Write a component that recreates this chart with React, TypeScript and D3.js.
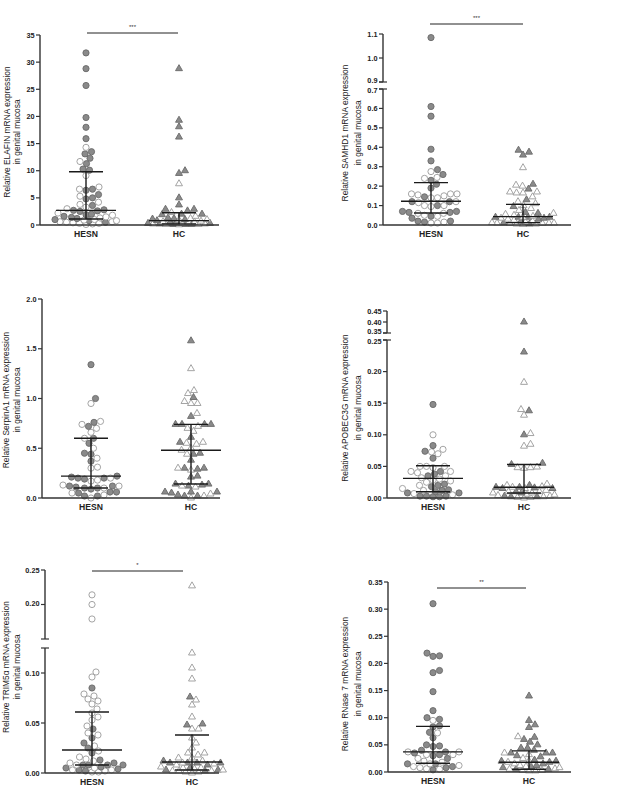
import React from "react";
import * as d3 from "d3";

const categories = ["HESN", "HC"];

// ELAFIN
const elafinHesnFilled = [31.7, 28.8, 25.7, 19.8, 18.0, 15.9, 13.5, 13.1, 12.3, 11.3, 10.3, 10.1, 6.6, 6.4, 5.6, 5.0, 4.8, 3.6, 2.8, 2.7, 2.6, 2.5, 2.0, 1.9, 1.6, 1.4, 1.2, 1.0, 0.8, 0.5];
const elafinHesnOpen = [14.3, 11.7, 9.1, 7.0, 6.6, 5.3, 4.2, 3.8, 3.3, 3.0, 2.2, 1.8, 1.5, 1.3, 1.0, 0.9, 0.8, 0.6, 0.6, 0.5, 0.4, 0.3, 0.3, 0.2, 0.1];
const elafinHcFilled = [28.8, 19.3, 18.1, 16.2, 10.0, 9.5, 5.0, 3.7, 2.9, 2.9, 2.6, 2.0, 2.0, 1.9, 1.3, 1.2, 1.1, 1.0, 0.8, 0.5, 0.4, 0.3, 0.3, 0.2, 0.1, 0.1, 0.1];
const elafinHcOpen = [7.6, 2.3, 1.6, 1.2, 1.0, 0.9, 0.7, 0.6, 0.5, 0.4, 0.3, 0.2, 0.2, 0.1, 0.1, 0.05];
const elafinMedian = [2.7, 0.8];
const elafinQ1 = [1.1, 0.2];
const elafinQ3 = [9.8, 2.25];

// SAMHD1
const samhd1HesnFilled = [1.085, 0.61, 0.56, 0.39, 0.33, 0.285, 0.26, 0.23, 0.21, 0.19, 0.145, 0.12, 0.12, 0.1, 0.07, 0.065, 0.07, 0.065, 0.045, 0.035, 0.02, 0.02, 0.015];
const samhd1HesnOpen = [0.275, 0.245, 0.24, 0.16, 0.16, 0.16, 0.155, 0.15, 0.14, 0.14, 0.12, 0.115, 0.1, 0.1, 0.095, 0.06, 0.06, 0.05, 0.045, 0.015, 0.01, 0.01];
const samhd1HcFilled = [0.385, 0.375, 0.36, 0.21, 0.185, 0.13, 0.095, 0.065, 0.06, 0.04, 0.04, 0.04, 0.04, 0.035, 0.03, 0.02, 0.01, 0.005];
const samhd1HcOpen = [0.295, 0.205, 0.2, 0.17, 0.17, 0.165, 0.165, 0.145, 0.12, 0.11, 0.1, 0.085, 0.075, 0.06, 0.055, 0.05, 0.045, 0.04, 0.035, 0.03, 0.025, 0.02, 0.015, 0.012, 0.01, 0.01, 0.01, 0.008, 0.008, 0.005, 0.005, 0.003];
const samhd1Median = [0.122, 0.043];
const samhd1Q1 = [0.062, 0.012];
const samhd1Q3 = [0.218, 0.106];

// SerpinA1
const serpinHesnFilled = [1.34, 1.0, 0.76, 0.72, 0.6, 0.55, 0.45, 0.44, 0.37, 0.22, 0.21, 0.2, 0.2, 0.19, 0.12, 0.12, 0.11, 0.1, 0.1, 0.09, 0.06, 0.06, 0.05, 0.02, 0.02];
const serpinHesnOpen = [0.95, 0.77, 0.74, 0.7, 0.66, 0.6, 0.5, 0.4, 0.31, 0.3, 0.2, 0.18, 0.17, 0.13, 0.12, 0.1, 0.05, 0.03, 0.0];
const serpinHcFilled = [1.58, 1.01, 0.82, 0.74, 0.74, 0.74, 0.74, 0.61, 0.56, 0.45, 0.44, 0.38, 0.3, 0.3, 0.29, 0.21, 0.22, 0.14, 0.14, 0.13, 0.12, 0.06, 0.06, 0.06, 0.05, 0.03, 0.02, 0.02];
const serpinHcOpen = [1.3, 1.08, 1.05, 0.97, 0.95, 0.95, 0.85, 0.72, 0.7, 0.67, 0.56, 0.55, 0.54, 0.5, 0.48, 0.44, 0.3, 0.28, 0.12, 0.11, 0.04, 0.02, 0.0];
const serpinMedian = [0.22, 0.48];
const serpinQ1 = [0.1, 0.14];
const serpinQ3 = [0.6, 0.74];

// APOBEC3G
const apobecHesnFilled = [0.148, 0.083, 0.074, 0.063, 0.042, 0.038, 0.035, 0.022, 0.02, 0.018, 0.013, 0.012, 0.01, 0.008, 0.008, 0.003, 0.003, 0.003, 0.002, 0.002];
const apobecHesnOpen = [0.1, 0.077, 0.073, 0.07, 0.05, 0.05, 0.05, 0.048, 0.042, 0.042, 0.04, 0.035, 0.032, 0.03, 0.028, 0.027, 0.025, 0.02, 0.015, 0.012, 0.007, 0.005];
const apobecHcFilled = [0.40, 0.231, 0.138, 0.1, 0.053, 0.055, 0.02, 0.017, 0.017, 0.016, 0.015, 0.015, 0.01, 0.008, 0.003, 0.002, 0.002];
const apobecHcOpen = [0.183, 0.14, 0.131, 0.102, 0.085, 0.082, 0.049, 0.048, 0.048, 0.047, 0.022, 0.02, 0.018, 0.017, 0.015, 0.012, 0.01, 0.01, 0.008, 0.008, 0.006, 0.005, 0.004, 0.003, 0.002, 0.001, 0.001, 0.0];
const apobecMedian = [0.031, 0.017];
const apobecQ1 = [0.01, 0.008];
const apobecQ3 = [0.051, 0.053];

// TRIM5α
const trimHesnFilled = [0.085, 0.044, 0.035, 0.03, 0.025, 0.02, 0.013, 0.01, 0.008, 0.008, 0.008, 0.008, 0.006, 0.005, 0.004, 0.003, 0.002];
const trimHesnOpen = [0.214, 0.2, 0.179, 0.101, 0.096, 0.079, 0.077, 0.074, 0.072, 0.069, 0.064, 0.06, 0.056, 0.053, 0.047, 0.04, 0.038, 0.027, 0.022, 0.016, 0.014, 0.012, 0.01, 0.008, 0.005, 0.003, 0.003, 0.002, 0.001, 0.001];
const trimHcFilled = [0.076, 0.049, 0.048, 0.012, 0.01, 0.01, 0.01, 0.01, 0.008, 0.005, 0.003, 0.003, 0.002];
const trimHcOpen = [0.227, 0.12, 0.105, 0.094, 0.073, 0.068, 0.056, 0.044, 0.044, 0.035, 0.03, 0.025, 0.02, 0.02, 0.018, 0.015, 0.015, 0.012, 0.01, 0.009, 0.008, 0.006, 0.005, 0.005, 0.004, 0.003, 0.002, 0.002, 0.002, 0.001, 0.001, 0.0];
const trimMedian = [0.023, 0.011];
const trimQ1 = [0.008, 0.003];
const trimQ3 = [0.061, 0.038];

// RNase 7
const rnaseHesnFilled = [0.31, 0.219, 0.214, 0.213, 0.187, 0.183, 0.148, 0.113, 0.1, 0.097, 0.085, 0.083, 0.073, 0.063, 0.05, 0.048, 0.047, 0.04, 0.037, 0.035, 0.032, 0.03, 0.025, 0.015, 0.015, 0.01, 0.008, 0.004];
const rnaseHesnOpen = [0.095, 0.072, 0.037, 0.037, 0.032, 0.032, 0.025, 0.02, 0.018, 0.015, 0.012, 0.01, 0.008, 0.006, 0.005];
const rnaseHcFilled = [0.14, 0.095, 0.087, 0.082, 0.064, 0.06, 0.055, 0.05, 0.044, 0.044, 0.04, 0.035, 0.035, 0.035, 0.03, 0.028, 0.022, 0.02, 0.02, 0.018, 0.015, 0.012, 0.01, 0.008, 0.005, 0.005];
const rnaseHcOpen = [0.065, 0.035, 0.032, 0.025, 0.02, 0.018, 0.015, 0.012, 0.01, 0.008, 0.006, 0.005, 0.003, 0.003, 0.002, 0.002];
const rnaseMedian = [0.037, 0.018];
const rnaseQ1 = [0.016, 0.005];
const rnaseQ3 = [0.084, 0.039];

type Seg = { domain: [number, number]; range: [number, number]; ticks: number[]; fmt: string; capTop?: boolean; capBottom?: boolean };
type Panel = {
  axisX: number; xEnd: number; centers: [number, number]; segs: Seg[];
  title: string[]; titleX: [number, number]; titleY: number;
  groups: { filled: number[]; open: number[] }[];
  median: number[]; q1: number[]; q3: number[];
  sig?: { x1: number; x2: number; y: number; text: string };
};

const t = (a: number, b: number, s: number) => d3.range(a, b + s / 2, s);

const panels: Panel[] = [
  {
    axisX: 40, xEnd: 219, centers: [86, 179],
    segs: [{ domain: [0, 35], range: [225, 35], ticks: t(0, 35, 5), fmt: "d" }],
    title: ["Relative ELAFIN mRNA expression", "in genital mucosa"], titleX: [7, 17], titleY: 132,
    groups: [{ filled: elafinHesnFilled, open: elafinHesnOpen }, { filled: elafinHcFilled, open: elafinHcOpen }],
    median: elafinMedian, q1: elafinQ1, q3: elafinQ3,
    sig: { x1: 87, x2: 178, y: 33, text: "***" },
  },
  {
    axisX: 383, xEnd: 571, centers: [431, 523],
    segs: [
      { domain: [0, 0.7], range: [225, 89], ticks: t(0, 0.7, 0.1), fmt: ".1f", capTop: true },
      { domain: [0.9, 1.1], range: [82, 34], ticks: t(0.9, 1.1, 0.1), fmt: ".1f", capBottom: true },
    ],
    title: ["Relative SAMHD1 mRNA expression", "in genital mucosa"], titleX: [345, 358], titleY: 133,
    groups: [{ filled: samhd1HesnFilled, open: samhd1HesnOpen }, { filled: samhd1HcFilled, open: samhd1HcOpen }],
    median: samhd1Median, q1: samhd1Q1, q3: samhd1Q3,
    sig: { x1: 430, x2: 523, y: 24, text: "***" },
  },
  {
    axisX: 42, xEnd: 220, centers: [91, 191],
    segs: [{ domain: [0, 2], range: [498, 299], ticks: t(0, 2, 0.5), fmt: ".1f" }],
    title: ["Relative SerpinA1 mRNA expression", "in genital mucosa"], titleX: [6, 17], titleY: 400,
    groups: [{ filled: serpinHesnFilled, open: serpinHesnOpen }, { filled: serpinHcFilled, open: serpinHcOpen }],
    median: serpinMedian, q1: serpinQ1, q3: serpinQ3,
  },
  {
    axisX: 387, xEnd: 571, centers: [433, 524],
    segs: [
      { domain: [0, 0.25], range: [498, 340], ticks: t(0, 0.25, 0.05), fmt: ".2f", capTop: true },
      { domain: [0.35, 0.45], range: [333, 311], ticks: t(0.35, 0.45, 0.05), fmt: ".2f", capBottom: true },
    ],
    title: ["Relative APOBEC3G mRNA expression", "in genital mucosa"], titleX: [345, 358], titleY: 408,
    groups: [{ filled: apobecHesnFilled, open: apobecHesnOpen }, { filled: apobecHcFilled, open: apobecHcOpen }],
    median: apobecMedian, q1: apobecQ1, q3: apobecQ3,
  },
  {
    axisX: 45, xEnd: 219, centers: [92, 192],
    segs: [
      { domain: [0, 0.125], range: [773, 648], ticks: t(0, 0.1, 0.05), fmt: ".2f", capTop: true },
      { domain: [0.15, 0.25], range: [639, 570], ticks: [0.2, 0.25], fmt: ".2f", capBottom: true },
    ],
    title: ["Relative TRIM5\u03b1 mRNA expression", "in genital mucosa"], titleX: [6, 17], titleY: 667,
    groups: [{ filled: trimHesnFilled, open: trimHesnOpen }, { filled: trimHcFilled, open: trimHcOpen }],
    median: trimMedian, q1: trimQ1, q3: trimQ3,
    sig: { x1: 92, x2: 183, y: 571, text: "*" },
  },
  {
    axisX: 388, xEnd: 571, centers: [433, 529],
    segs: [{ domain: [0, 0.35], range: [772, 582], ticks: t(0, 0.35, 0.05), fmt: ".2f" }],
    title: ["Relative RNase 7 mRNA expression", "in genital mucosa"], titleX: [345, 358], titleY: 684,
    groups: [{ filled: rnaseHesnFilled, open: rnaseHesnOpen }, { filled: rnaseHcFilled, open: rnaseHcOpen }],
    median: rnaseMedian, q1: rnaseQ1, q3: rnaseQ3,
    sig: { x1: 437, x2: 526, y: 588, text: "**" },
  },
];

const FONT = "'Liberation Sans', Arial, sans-serif";
const FILL = "#8a8a8a";
const FILL_STROKE = "#6a6a6a";
const OPEN_STROKE = "#9a9a9a";

function makeY(segs: Seg[]) {
  const scales = segs.map((s) => d3.scaleLinear().domain(s.domain).range(s.range));
  return (v: number) => {
    for (let i = segs.length - 1; i >= 0; i--) {
      if (v >= segs[i].domain[0] || i === 0) return scales[i](v);
    }
    return scales[0](v);
  };
}

function swarm(vals: { v: number; filled: boolean }[], y: (v: number) => number, cx: number, d: number, maxHalf: number) {
  const items = vals.map((p) => ({ ...p, y: y(p.v) })).sort((a, b) => b.y - a.y);
  const placed: { x: number; y: number; filled: boolean }[] = [];
  for (const it of items) {
    let x: number | null = null;
    for (const sc of [1, 0.85, 0.72, 0.6, 0.5, 0.4, 0.3]) {
      const dd = d * sc;
      for (let k = 0; k < 400; k++) {
        const off = k === 0 ? 0 : (k % 2 === 1 ? 1 : -1) * Math.ceil(k / 2) * 0.5;
        if (Math.abs(off) > maxHalf) break;
        const cxTry = cx + off;
        const hit = placed.some((p) => (p.x - cxTry) ** 2 + (p.y - it.y) ** 2 < dd * dd);
        if (!hit) { x = cxTry; break; }
      }
      if (x !== null) break;
    }
    placed.push({ x: x === null ? cx : x, y: it.y, filled: it.filled });
  }
  return placed;
}

const triPath = d3.symbol(d3.symbolTriangle, 21)() as string;

function PanelView({ p }: { p: Panel }) {
  const y = makeY(p.segs);
  const xScale = d3.scalePoint<string>().domain(categories).range(p.centers);
  const baseY = p.segs[0].range[0];
  const axisColor = "#333";
  return (
    <g>
      {p.groups.map((g, gi) => {
        const cx = xScale(categories[gi]) as number;
        const pts = swarm(
          [...g.filled.map((v) => ({ v, filled: true })), ...g.open.map((v) => ({ v, filled: false }))],
          y, cx, 6.4, 31
        );
        return (
          <g key={gi}>
            {pts.map((pt, i) =>
              gi === 0 ? (
                <circle key={i} cx={pt.x} cy={pt.y} r={3.1}
                  fill={pt.filled ? FILL : "#fff"} stroke={pt.filled ? FILL_STROKE : OPEN_STROKE} strokeWidth={0.9} />
              ) : (
                <path key={i} d={triPath} transform={`translate(${pt.x},${pt.y})`}
                  fill={pt.filled ? FILL : "#fff"} stroke={pt.filled ? FILL_STROKE : OPEN_STROKE} strokeWidth={0.9} />
              )
            )}
          </g>
        );
      })}
      {categories.map((c, gi) => {
        const cx = xScale(c) as number;
        return (
          <g key={c} stroke="#1a1a1a" strokeWidth={1.4}>
            <line x1={cx - 30} x2={cx + 30} y1={y(p.median[gi])} y2={y(p.median[gi])} />
            <line x1={cx} x2={cx} y1={y(p.q1[gi])} y2={y(p.q3[gi])} />
            <line x1={cx - 17} x2={cx + 17} y1={y(p.q1[gi])} y2={y(p.q1[gi])} />
            <line x1={cx - 17} x2={cx + 17} y1={y(p.q3[gi])} y2={y(p.q3[gi])} />
          </g>
        );
      })}
      {p.segs.map((s, si) => {
        const sy = d3.scaleLinear().domain(s.domain).range(s.range);
        return (
          <g key={si}>
            <line x1={p.axisX} x2={p.axisX} y1={s.range[0]} y2={s.range[1]} stroke={axisColor} strokeWidth={1.4} />
            {s.ticks.map((tv, ti) => {
              const ty = sy(tv);
              let nudge = 0;
              if (s.capBottom && ti === 0) nudge = -1.3;
              if (s.capTop && ti === s.ticks.length - 1 && Math.abs(sy(tv) - s.range[1]) < 1) nudge = 1.3;
              return (
                <g key={ti}>
                  <line x1={p.axisX - 4} x2={p.axisX} y1={ty} y2={ty} stroke={axisColor} strokeWidth={1.2} />
                  <text x={p.axisX - 5.5} y={ty + nudge} dy="0.35em" textAnchor="end" fontSize={7.3} fontWeight="bold"
                    fontFamily={FONT} fill="#222">{d3.format(s.fmt)(tv)}</text>
                </g>
              );
            })}
            {s.capTop && (
              <line x1={p.axisX - 4} x2={p.axisX + 4} y1={s.range[1]} y2={s.range[1]} stroke={axisColor} strokeWidth={1.2} />
            )}
            {s.capBottom && (
              <line x1={p.axisX - 4} x2={p.axisX + 4} y1={s.range[0]} y2={s.range[0]} stroke={axisColor} strokeWidth={1.2} />
            )}
          </g>
        );
      })}
      <line x1={p.axisX} x2={p.xEnd} y1={baseY} y2={baseY} stroke={axisColor} strokeWidth={1.4} />
      {categories.map((c) => (
        <text key={c} x={xScale(c) as number} y={baseY + 12} textAnchor="middle" fontSize={8.6}
          fontWeight="bold" fontFamily={FONT} fill="#222">{c}</text>
      ))}
      {p.title.map((line, li) => (
        <text key={li} transform={`translate(${p.titleX[li] + 3},${p.titleY}) rotate(-90)`} textAnchor="middle"
          fontSize={8.4} fontFamily={FONT} fill="#222">{line}</text>
      ))}
      {p.sig && (
        <g>
          <line x1={p.sig.x1} x2={p.sig.x2} y1={p.sig.y} y2={p.sig.y} stroke="#222" strokeWidth={1} />
          <text x={(p.sig.x1 + p.sig.x2) / 2} y={p.sig.y - 4} textAnchor="middle" fontSize={6}
            fontFamily={FONT} fill="#333">{p.sig.text}</text>
        </g>
      )}
    </g>
  );
}

export default function App() {
  return (
    <svg width={624} height={786} style={{ position: "absolute", left: 0, top: 0, background: "#fff" }}>
      <rect width={624} height={786} fill="#fff" />
      {panels.map((p, i) => <PanelView key={i} p={p} />)}
    </svg>
  );
}
